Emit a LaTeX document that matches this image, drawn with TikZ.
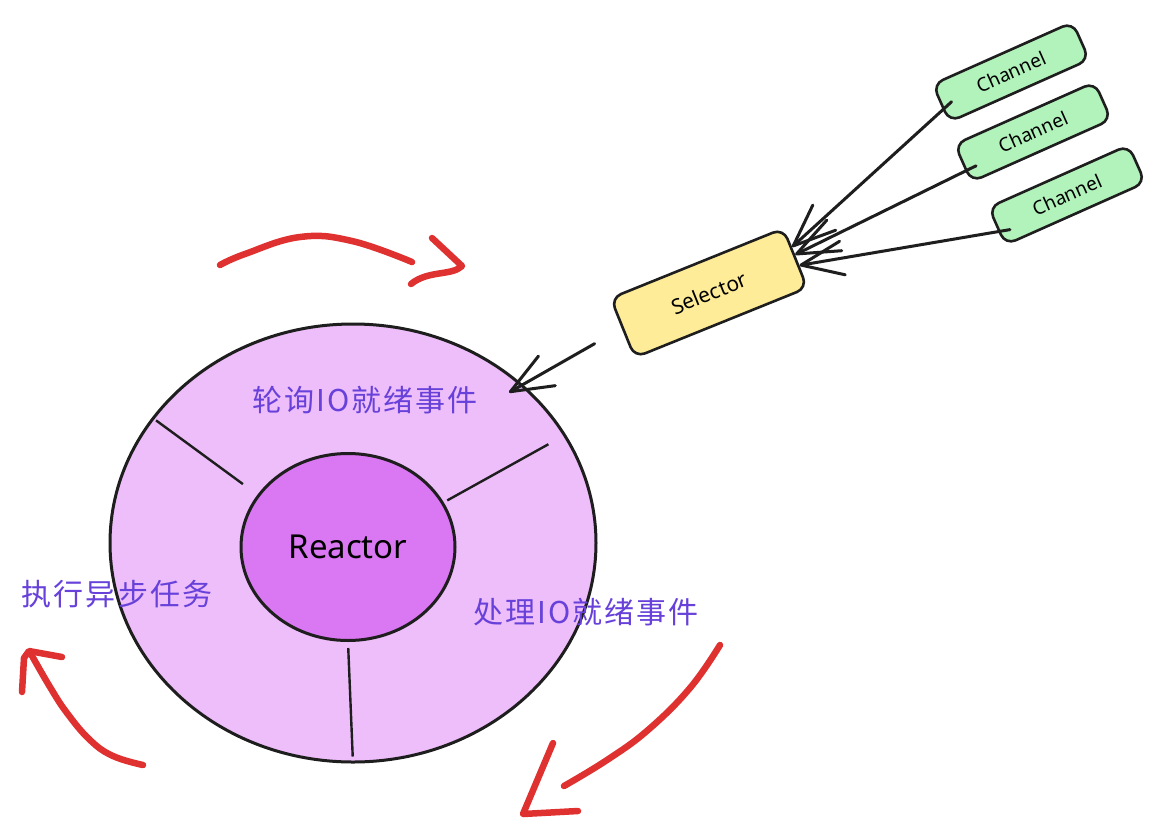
\documentclass[tikz,border=0pt]{standalone}
\usepackage{fontspec}
\setmainfont{Noto Sans}
\newfontfamily\cjk[LetterSpace=7]{Noto Sans CJK SC}
\usetikzlibrary{shapes.geometric,arrows.meta}
\definecolor{inkblack}{HTML}{1E1E1E}
\definecolor{ringfill}{HTML}{EEBEFA}
\definecolor{corefill}{HTML}{DA77F2}
\definecolor{selfill}{HTML}{FFEC99}
\definecolor{chanfill}{HTML}{B2F2BB}
\definecolor{steptext}{HTML}{6741D9}
\definecolor{loopred}{HTML}{E03131}
\begin{document}
\begin{tikzpicture}
[x=1pt,y=-1pt,
  ringdecorate/.style={shape=ellipse,draw=inkblack,line width=3pt,inner sep=0pt},%
  boxdecorate/.style={shape=rectangle,draw=inkblack,line width=2.6pt,rounded corners=11pt,inner sep=0pt},%
  chandecorate/.style={boxdecorate,fill=chanfill,minimum width=153pt,minimum height=41pt,rotate=24,font=\fontsize{19}{22}\selectfont},%
  linedecorate/.style={-{Straight Barb[length=42pt,width=34pt,round]},draw=inkblack,line width=3pt,line cap=round},%
  dividedecorate/.style={draw=inkblack,line width=2.4pt},%
  stepdecorate/.style={text=steptext,font=\cjk\fontsize{30}{36}\selectfont},%
  loopdecorate/.style={draw=loopred,line width=6.5pt,line cap=round,line join=round}]
\path[use as bounding box,fill=white] (0,0) rectangle (1168,836);
%% reactor rings
\node (ring) at (353,543) [ringdecorate,fill=ringfill,minimum width=486pt,minimum height=438pt] {};
\node (core) at (348,547) [ringdecorate,fill=corefill,minimum width=214pt,minimum height=187pt,font=\fontsize{33}{40}\selectfont] {Reactor};
%% dividers
\draw[dividedecorate,shorten <=5pt,shorten >=18pt] (ring.148) -- (core.150);
\draw[dividedecorate,shorten <=20pt,shorten >=4pt] (ring.27) -- (core.25);
\draw[dividedecorate,shorten <=7pt,shorten >=6pt] (ring.south) -- (core.south);
%% selector and channels
\node (sel) at (709,293) [boxdecorate,fill=selfill,minimum width=186pt,minimum height=64pt,rotate=22,font=\fontsize{21}{24}\selectfont] {Selector};
\foreach \nodename/\x/\y in {
  ch1/1011/72, ch2/1033/132, ch3/1067/195}
{
  \node (\nodename) at (\x,\y) [chandecorate] {Channel};
}
%% arrows
\path
\foreach \startnode/\endnode in {ch1.185/sel.7, ch2.186/sel.2, ch3.184/sel.355} {
  (\startnode) edge[linedecorate,shorten <=-12pt] (\endnode)
};
\draw[linedecorate,shorten <=31pt,shorten >=-16pt] (sel.west) -- (ring.43);
%% step labels
\node (poll) at (365,400) [stepdecorate] {轮询IO就绪事件};
\node (handle) at (586,612) [stepdecorate] {处理IO就绪事件};
\node (run) at (117,594) [stepdecorate] {执行异步任务};
%% red loop arrows
\draw[loopdecorate] plot[smooth,tension=0.7] coordinates {(220,265) (245,254) (300,237) (352,241) (412,262)};
\draw[loopdecorate] (432,238) -- (462,266) .. controls (452,276) and (428,270) .. (411,284);
\draw[loopdecorate] plot[smooth,tension=0.7] coordinates {(720,645) (690,688) (648,730) (607,760) (564,786)};
\draw[loopdecorate] (553,743) -- (523,814) -- (578,811);
\draw[loopdecorate] plot[smooth,tension=0.7] coordinates {(143,765) (113,756) (90,740) (67,713) (50,687) (31,654)};
\draw[loopdecorate] (22,692) -- (24,658) -- (29,651) -- (62,657);
\end{tikzpicture}
\end{document}
